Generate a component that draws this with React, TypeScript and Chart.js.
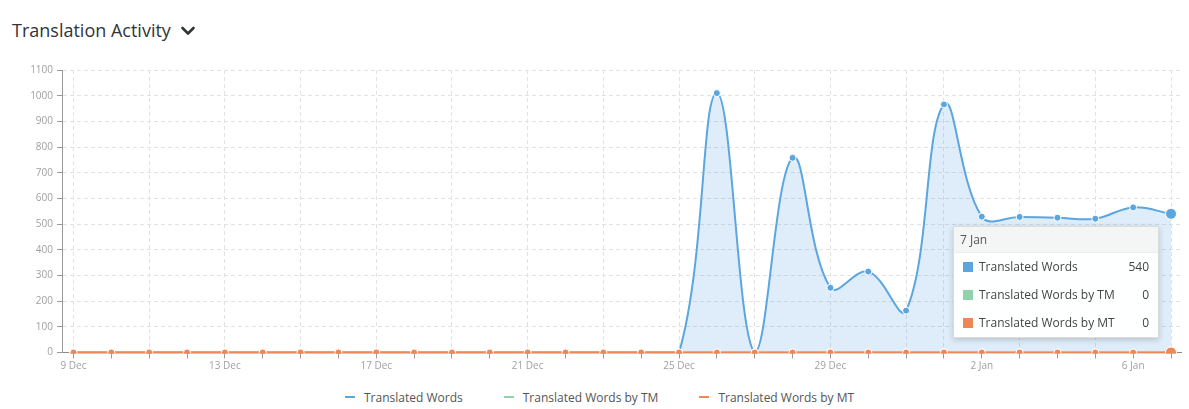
import React, { useEffect, useRef } from 'react';
import { Chart, registerables } from 'chart.js';

Chart.register(...registerables);

// Daily buckets shown on the x axis
const days = [
  '9 Dec', '10 Dec', '11 Dec', '12 Dec', '13 Dec', '14 Dec', '15 Dec', '16 Dec',
  '17 Dec', '18 Dec', '19 Dec', '20 Dec', '21 Dec', '22 Dec', '23 Dec', '24 Dec',
  '25 Dec', '26 Dec', '27 Dec', '28 Dec', '29 Dec', '30 Dec', '31 Dec',
  '1 Jan', '2 Jan', '3 Jan', '4 Jan', '5 Jan', '6 Jan', '7 Jan',
];

const translatedWords = [
  0, 0, 0, 0, 0, 0, 0, 0, 0, 0, 0, 0, 0, 0, 0, 0,
  0, 1010, 0, 758, 252, 315, 163, 966, 529, 528, 525, 521, 565, 540,
];

const wordsByTM = [
  0, 0, 0, 0, 0, 0, 0, 0, 0, 0, 0, 0, 0, 0, 0, 0,
  0, 0, 0, 0, 0, 0, 0, 0, 0, 0, 0, 0, 0, 0,
];

const wordsByMT = [
  0, 0, 0, 0, 0, 0, 0, 0, 0, 0, 0, 0, 0, 0, 0, 0,
  0, 0, 0, 0, 0, 0, 0, 0, 0, 0, 0, 0, 0, 0,
];

const seriesNames = ['Translated Words', 'Translated Words by TM', 'Translated Words by MT'];
const seriesColors = ['#5ba6df', '#8fd3ae', '#ef8656'];

const yMax = 1100;
const yStep = 100;
const labelEvery = 4;
const focusDay = '7 Jan';

const FONT = "'Open Sans', 'Noto Sans', sans-serif";

export default function App() {
  const canvasRef = useRef<HTMLCanvasElement>(null);
  const tipRef = useRef<HTMLDivElement>(null);

  useEffect(() => {
    const series = [translatedWords, wordsByTM, wordsByMT];
    const tickFont = { family: FONT, size: 10 };

    const chart = new Chart(canvasRef.current!, {
      type: 'line',
      data: {
        datasets: series.map((vals, k) => ({
          label: seriesNames[k],
          data: vals.map((y, i) => ({ x: i, y })),
          borderColor: seriesColors[k],
          backgroundColor: k === 0 ? 'rgba(91,166,223,0.2)' : seriesColors[k],
          fill: k === 0 ? 'origin' : false,
          borderWidth: 2,
          tension: 0.4,
          pointRadius: 3.5,
          pointBackgroundColor: seriesColors[k],
          pointBorderColor: '#ffffff',
          pointBorderWidth: 1,
          pointHoverRadius: 5.5,
          pointHoverBackgroundColor: seriesColors[k],
          pointHoverBorderColor: '#ffffff',
          pointHoverBorderWidth: 1,
          order: series.length - k,
          clip: { left: 6, right: 10, top: 6, bottom: 1 },
        })),
      },
      options: {
        animation: false,
        responsive: true,
        maintainAspectRatio: false,
        events: [],
        layout: { padding: { top: 20, right: 8, bottom: 0, left: 0 } },
        scales: {
          x: {
            type: 'linear',
            min: -0.304,
            max: 29.264,
            z: 1,
            afterBuildTicks: (scale: any) => {
              scale.ticks = days.map((_, i) => ({ value: i }));
            },
            afterFit: (scale: any) => {
              scale.height = 27.5;
            },
            ticks: {
              autoSkip: false,
              maxRotation: 0,
              color: '#a0a0a0',
              font: tickFont,
              padding: 2,
              callback: (v: any) => (Number(v) % labelEvery === 0 ? days[Number(v)] : ''),
            },
            grid: {
              color: (ctx: any) => {
                const i = ctx.tick ? ctx.tick.value : -1;
                const dom = i >= 0 ? parseInt(days[i], 10) : 0;
                return dom % 2 === 1 ? '#e2e2e2' : 'rgba(0,0,0,0)';
              },
              tickColor: '#9a9a9a',
              tickLength: 6,
              lineWidth: 1,
            },
            border: { color: '#8f8a86', width: 1, dash: [4, 3] },
          },
          y: {
            min: 0,
            max: yMax,
            afterFit: (scale: any) => {
              scale.width = 62;
            },
            ticks: {
              stepSize: yStep,
              color: '#a0a0a0',
              font: tickFont,
              padding: 4,
              callback: (v: any) => String(v),
            },
            grid: {
              color: '#e2e2e2',
              tickColor: '#9a9a9a',
              tickLength: 5,
              lineWidth: 1,
            },
            border: { color: '#9a9a9a', width: 1, dash: [4, 3] },
          },
        },
        plugins: {
          legend: { display: false },
          tooltip: {
            enabled: false,
            mode: 'index',
            intersect: false,
            itemSort: (a: any, b: any) => a.datasetIndex - b.datasetIndex,
            external: ({ chart: c, tooltip }: any) => {
              const tip = tipRef.current;
              if (!tip) return;
              if (tooltip.opacity === 0 || !tooltip.dataPoints || !tooltip.dataPoints.length) {
                tip.style.display = 'none';
                return;
              }
              const points = [...tooltip.dataPoints].sort(
                (a: any, b: any) => a.datasetIndex - b.datasetIndex,
              );
              const idx = points[0].dataIndex;
              tip.innerHTML = '';

              const head = document.createElement('div');
              head.textContent = days[idx];
              Object.assign(head.style, {
                height: '25px',
                lineHeight: '25px',
                padding: '0 6px',
                background: '#f4f5f5',
                color: '#555',
                borderBottom: '1px solid #eeeeee',
              });
              tip.appendChild(head);

              points.forEach((p: any) => {
                const row = document.createElement('div');
                Object.assign(row.style, {
                  display: 'flex',
                  alignItems: 'center',
                  height: '28px',
                  padding: '0 9px',
                });
                const sw = document.createElement('span');
                Object.assign(sw.style, {
                  width: '10px',
                  height: '10px',
                  background: p.dataset.borderColor,
                  marginRight: '6px',
                  flex: 'none',
                });
                const name = document.createElement('span');
                name.textContent = p.dataset.label;
                name.style.flex = '1';
                const val = document.createElement('span');
                val.textContent = p.formattedValue;
                row.appendChild(sw);
                row.appendChild(name);
                row.appendChild(val);
                tip.appendChild(row);
              });

              tip.style.display = 'block';
              const px = c.scales.x.getPixelForValue(idx);
              const py = c.scales.y.getPixelForValue(translatedWords[idx]);
              tip.style.left = `${px - 12 - tip.offsetWidth}px`;
              tip.style.top = `${py + 12}px`;
            },
          },
        },
      } as any,
    });

    const idx = days.indexOf(focusDay);
    const active = series.map((_, k) => ({ datasetIndex: k, index: idx }));
    chart.setActiveElements(active);
    chart.tooltip!.setActiveElements(active, { x: 0, y: 0 });
    chart.update();

    return () => chart.destroy();
  }, []);

  return (
    <div
      style={{
        position: 'fixed',
        left: 0,
        top: 0,
        width: 1189,
        height: 409,
        background: '#ffffff',
        fontFamily: FONT,
        overflow: 'hidden',
      }}
    >
      <div
        style={{
          position: 'absolute',
          left: 12,
          top: 19,
          fontSize: 18,
          lineHeight: '22px',
          fontWeight: 500,
          color: '#2f3539',
          display: 'flex',
          alignItems: 'center',
        }}
      >
        <span>Translation Activity</span>
        <svg width="16" height="12" viewBox="0 0 16 12" style={{ marginLeft: 9, marginTop: 1 }}>
          <polyline
            points="2.5,3 8,8.5 13.5,3"
            fill="none"
            stroke="#2f3539"
            strokeWidth="2.6"
            strokeLinecap="round"
            strokeLinejoin="round"
          />
        </svg>
      </div>

      <div style={{ position: 'absolute', left: 0, top: 50, width: 1189, height: 330 }}>
        <canvas ref={canvasRef} />
        <div
          ref={tipRef}
          style={{
            position: 'absolute',
            display: 'none',
            width: 206,
            boxSizing: 'border-box',
            background: 'rgba(255,255,255,0.97)',
            border: '1px solid #dcdcdc',
            boxShadow: '0 2px 6px rgba(0,0,0,0.18)',
            fontSize: 12,
            color: '#444',
            pointerEvents: 'none',
          }}
        />
      </div>

      <div
        style={{
          position: 'absolute',
          left: 345,
          top: 388,
          height: 18,
          display: 'flex',
          alignItems: 'center',
          fontSize: 12,
          color: '#555',
          whiteSpace: 'nowrap',
        }}
      >
        {seriesNames.map((name, k) => (
          <div
            key={name}
            style={{ display: 'flex', alignItems: 'center', marginRight: k < seriesNames.length - 1 ? 41 : 0 }}
          >
            <span
              style={{
                display: 'inline-block',
                width: 10,
                height: 2,
                background: seriesColors[k],
                marginRight: 9,
              }}
            />
            <span>{name}</span>
          </div>
        ))}
      </div>
    </div>
  );
}
